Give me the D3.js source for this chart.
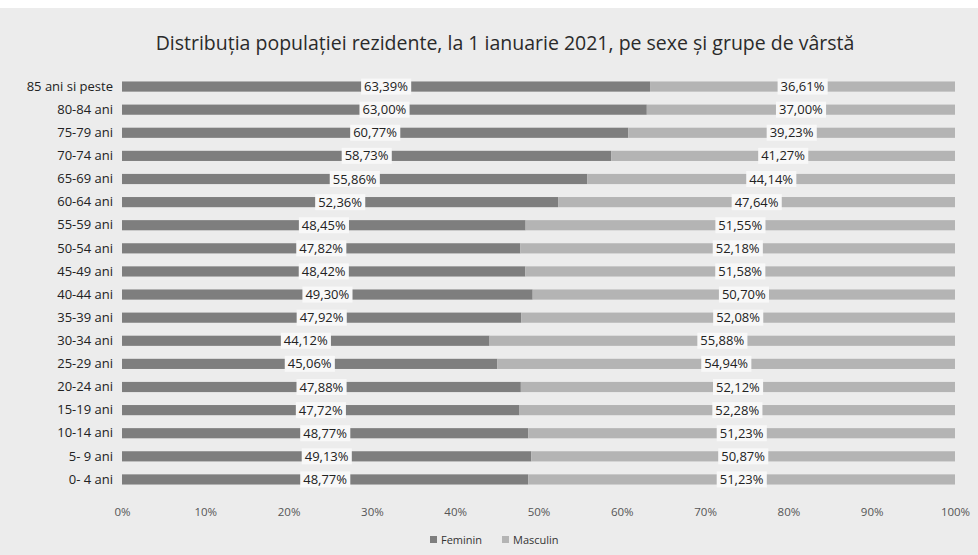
<!DOCTYPE html>
<html>
<head>
<meta charset="utf-8">
<script src="https://cdn.jsdelivr.net/npm/d3@7"></script>
<style>
  body { margin: 0; background: #fff; }
  svg { display: block; font-family: "Open Sans", "Noto Sans", sans-serif; }
</style>
</head>
<body>
<div id="chart"></div>
<script>
const groups = ["85 ani si peste", "80-84 ani", "75-79 ani", "70-74 ani", "65-69 ani", "60-64 ani",
  "55-59 ani", "50-54 ani", "45-49 ani", "40-44 ani", "35-39 ani", "30-34 ani", "25-29 ani",
  "20-24 ani", "15-19 ani", "10-14 ani", "5- 9 ani", "0- 4 ani"]
const feminin = [63.39, 63.00, 60.77, 58.73, 55.86, 52.36, 48.45, 47.82, 48.42, 49.30, 47.92,
  44.12, 45.06, 47.88, 47.72, 48.77, 49.13, 48.77]
const masculin = [36.61, 37.00, 39.23, 41.27, 44.14, 47.64, 51.55, 52.18, 51.58, 50.70, 52.08,
  55.88, 54.94, 52.12, 52.28, 51.23, 50.87, 51.23]
const seriesNames = ["Feminin", "Masculin"]
const tickValues = [0, 10, 20, 30, 40, 50, 60, 70, 80, 90, 100]

const width = 978, height = 555
const colors = {Feminin: "#7e7e7e", Masculin: "#b4b4b4"}

const svg = d3.select("#chart").append("svg")
  .attr("width", width).attr("height", height)

svg.append("rect").attr("x", 0).attr("y", 8).attr("width", width).attr("height", height - 8)
  .attr("fill", "#ececec")

svg.append("text")
  .attr("x", 505).attr("y", 50)
  .attr("text-anchor", "middle")
  .attr("font-size", 19.5)
  .attr("fill", "#2a2a2a")
  .text("Distribuția populației rezidente, la 1 ianuarie 2021, pe sexe și grupe de vârstă")

const x = d3.scaleLinear().domain([0, 100]).range([122, 955])
const y = d3.scaleBand().domain(groups).range([75, 491]).paddingInner(0.56).paddingOuter(0.28)

const table = groups.map((g, i) => ({group: g, Feminin: feminin[i], Masculin: masculin[i]}))
const stacked = d3.stack().keys(seriesNames)(table)

const layers = svg.selectAll("g.layer").data(stacked).join("g")
  .attr("class", "layer")
  .attr("fill", d => colors[d.key])

layers.selectAll("rect").data(d => d).join("rect")
  .attr("x", d => x(d[0]))
  .attr("y", d => y(d.data.group))
  .attr("width", d => x(d[1]) - x(d[0]))
  .attr("height", y.bandwidth())

// value labels at the middle of each segment, on a white box
stacked.forEach(layer => {
  layer.forEach(d => {
    const cx = x((d[0] + d[1]) / 2)
    const cy = y(d.data.group) + y.bandwidth() / 2
    const g = svg.append("g")
    const t = g.append("text")
      .attr("x", cx).attr("y", cy)
      .attr("dy", "0.35em")
      .attr("text-anchor", "middle")
      .attr("font-size", 13)
      .attr("fill", "#222")
      .text(d3.format(".2f")(d[1] - d[0]).replace(".", ",") + "%")
    const bb = t.node().getBBox()
    g.insert("rect", "text")
      .attr("x", bb.x - 3).attr("y", cy - 8)
      .attr("width", bb.width + 6).attr("height", 16)
      .attr("fill", "#f8f8f8")
  })
})

// category labels
svg.append("g")
  .attr("transform", "translate(113,0)")
  .call(d3.axisLeft(y).tickSize(0).tickPadding(0))
  .call(g => g.select(".domain").remove())
  .call(g => g.selectAll("text")
    .attr("font-size", 13)
    .attr("fill", "#222")
    .attr("font-family", "Open Sans, sans-serif"))

// x axis
svg.append("g")
  .attr("transform", "translate(0,500)")
  .call(d3.axisBottom(x).tickValues(tickValues).tickSize(0).tickPadding(8)
    .tickFormat(d => d + "%"))
  .call(g => g.select(".domain").remove())
  .call(g => g.selectAll("text")
    .attr("font-size", 11.5)
    .attr("fill", "#555")
    .attr("font-family", "Open Sans, sans-serif"))

// legend
const legend = svg.append("g").attr("transform", "translate(430,540)")
const lx = [0, 72]
seriesNames.forEach((name, i) => {
  const item = legend.append("g").attr("transform", `translate(${lx[i]},0)`)
  item.append("rect").attr("x", 0).attr("y", -4).attr("width", 7).attr("height", 7)
    .attr("fill", colors[name])
  item.append("text").attr("x", 11).attr("y", 0).attr("dy", "0.35em")
    .attr("font-size", 11).attr("fill", "#333").text(name)
})
</script>
</body>
</html>
